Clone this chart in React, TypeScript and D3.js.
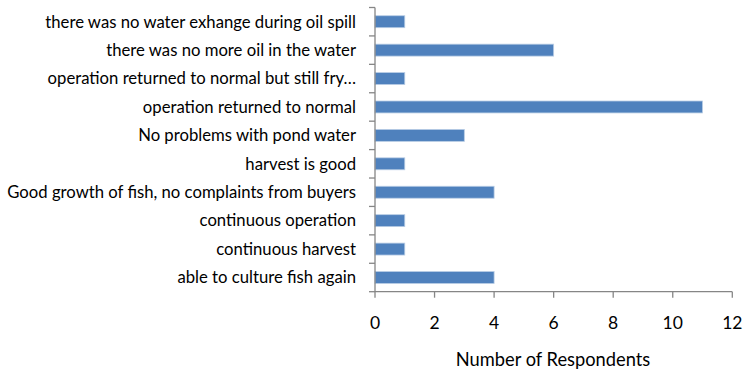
import React from "react";
import * as d3 from "d3";

const categories: string[] = [
  "there was no water exhange during oil spill",
  "there was no more oil in the water",
  "operation returned to normal but still fry…",
  "operation returned to normal",
  "No problems with pond water",
  "harvest is good",
  "Good growth of fish, no complaints from buyers",
  "continuous operation",
  "continuous harvest",
  "able to culture fish again",
];
const values: number[] = [1, 6, 1, 11, 3, 1, 4, 1, 1, 4];
const xTicks: number[] = [0, 2, 4, 6, 8, 10, 12];
const xTitle = "Number of Respondents";

const W = 750;
const H = 376;
const left = 375;
const right = 732.3;
const top = 7.5;
const bottom = 291.7;
const font = "Lato, 'Open Sans', sans-serif";
const axisColor = "#868686";

export default function App() {
  const x = d3.scaleLinear().domain([0, 12]).range([left, right]);
  const y = d3.scaleBand<string>().domain(categories).range([top, bottom]).paddingInner(0.58).paddingOuter(0.29);
  const band = (bottom - top) / categories.length;
  return (
    <svg width={W} height={H} style={{ position: "absolute", left: 0, top: 0, background: "#fff" }}>
      {categories.map((c, i) => (
        <rect
          key={c}
          x={x(0)}
          y={y(c)!}
          width={x(values[i]) - x(0)}
          height={y.bandwidth()}
          fill="#4F81BD"
          stroke="#B9CDE5"
          strokeWidth={0.8}
        />
      ))}
      {/* y axis */}
      <line x1={left} x2={left} y1={top} y2={bottom} stroke={axisColor} strokeWidth={1.3} />
      {d3.range(categories.length + 1).map((i) => (
        <line key={i} x1={left - 6} x2={left} y1={top + i * band} y2={top + i * band} stroke={axisColor} strokeWidth={1.3} />
      ))}
      {categories.map((c) => (
        <text key={c} x={356} y={y(c)! + y.bandwidth() / 2} dy="0.35em" textAnchor="end" fontFamily={font} fontSize={16.7} fill="#000">
          {c}
        </text>
      ))}
      {/* x axis */}
      <line x1={left} x2={right} y1={bottom} y2={bottom} stroke={axisColor} strokeWidth={1.3} />
      {xTicks.map((t) => (
        <g key={t}>
          <line x1={x(t)} x2={x(t)} y1={bottom} y2={bottom + 6} stroke={axisColor} strokeWidth={1.3} />
          <text x={x(t)} y={323} dy="0.35em" textAnchor="middle" fontFamily={font} fontSize={17.5} fill="#000">
            {t}
          </text>
        </g>
      ))}
      <text x={553} y={360} dy="0.35em" textAnchor="middle" fontFamily={font} fontSize={18.3} fill="#000">
        {xTitle}
      </text>
    </svg>
  );
}
